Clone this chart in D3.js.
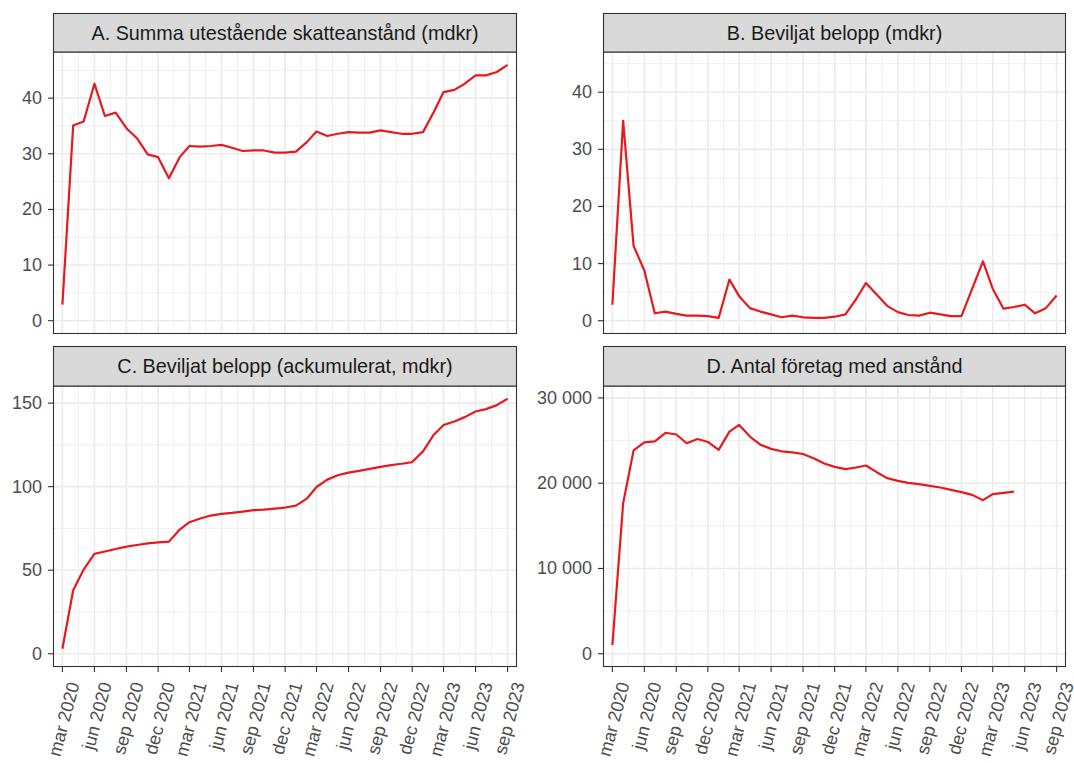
<!DOCTYPE html>
<html>
<head>
<meta charset="utf-8">
<script src="https://cdn.jsdelivr.net/npm/d3@7"></script>
<style>
  body { margin: 0; background: #ffffff; }
  text { font-family: "Liberation Sans", Arial, Helvetica, sans-serif; }
</style>
</head>
<body>
<svg id="chart" width="1074" height="763"></svg>
<script>
// Monthly observations, mar 2020 – sep 2023
const months = [
  "2020-03","2020-04","2020-05","2020-06","2020-07","2020-08","2020-09","2020-10","2020-11","2020-12",
  "2021-01","2021-02","2021-03","2021-04","2021-05","2021-06","2021-07","2021-08","2021-09","2021-10","2021-11","2021-12",
  "2022-01","2022-02","2022-03","2022-04","2022-05","2022-06","2022-07","2022-08","2022-09","2022-10","2022-11","2022-12",
  "2023-01","2023-02","2023-03","2023-04","2023-05","2023-06","2023-07","2023-08","2023-09"
];

// A. Summa utestående skatteanstånd (mdkr)
const utestaende = [
  2.9, 35.1, 35.8, 42.6, 36.8, 37.4, 34.6, 32.8, 29.9, 29.4,
  25.6, 29.4, 31.4, 31.3, 31.4, 31.6, 31.1, 30.5, 30.6, 30.6, 30.2, 30.2,
  30.4, 32.1, 34.0, 33.2, 33.6, 33.9, 33.8, 33.8, 34.2, 33.9, 33.6, 33.6,
  33.9, 37.5, 41.1, 41.5, 42.6, 44.1, 44.1, 44.7, 46.0
];

// B. Beviljat belopp (mdkr)
const beviljat = [
  2.8, 35.0, 13.1, 8.8, 1.3, 1.6, 1.2, 0.9, 0.9, 0.8,
  0.5, 7.2, 4.3, 2.2, 1.6, 1.1, 0.6, 0.9, 0.6, 0.5, 0.5, 0.7,
  1.1, 3.8, 6.6, 4.6, 2.6, 1.5, 1.0, 0.9, 1.4, 1.1, 0.8, 0.8,
  5.6, 10.4, 5.6, 2.1, 2.4, 2.8, 1.3, 2.2, 4.4
];

// C. Beviljat belopp (ackumulerat, mdkr)
const ackumulerat = [
  3.0, 38.0, 50.4, 59.8, 61.2, 62.7, 64.1, 65.1, 66.1, 66.7,
  67.1, 74.3, 78.7, 80.9, 82.7, 83.7, 84.3, 85.1, 85.9, 86.3, 86.9, 87.5,
  88.6, 92.8, 99.8, 104.2, 106.8, 108.4, 109.4, 110.6, 111.8, 112.9, 113.7, 114.7,
  121.1, 131.1, 136.9, 139.0, 141.6, 145.0, 146.4, 148.8, 152.6
];

// D. Antal företag med anstånd (series ends may 2023)
const foretag = [
  1010, 17650, 23850, 24780, 24900, 25910, 25710, 24680, 25180, 24830,
  23900, 26050, 26830, 25460, 24520, 24020, 23740, 23620, 23420, 22930, 22300, 21910,
  21640, 21840, 22070, 21290, 20590, 20270, 20040, 19880, 19690, 19490, 19220, 18950,
  18630, 18010, 18710, 18870, 19020
];

const panelTitles = [
  "A. Summa utestående skatteanstånd (mdkr)",
  "B. Beviljat belopp (mdkr)",
  "C. Beviljat belopp (ackumulerat, mdkr)",
  "D. Antal företag med anstånd"
];

// x-axis breaks (quarterly) and their labels
const tickMonths = [
  "2020-03","2020-06","2020-09","2020-12","2021-03","2021-06","2021-09","2021-12",
  "2022-03","2022-06","2022-09","2022-12","2023-03","2023-06","2023-09"
];
const tickLabels = [
  "mar 2020","jun 2020","sep 2020","dec 2020","mar 2021","jun 2021","sep 2021","dec 2021",
  "mar 2022","jun 2022","sep 2022","dec 2022","mar 2023","jun 2023","sep 2023"
];

// y-axis breaks per panel
const yTicksA = [0, 10, 20, 30, 40];
const yTicksB = [0, 10, 20, 30, 40];
const yTicksC = [0, 50, 100, 150];
const yTicksD = [0, 10000, 20000, 30000];
const yLabelsD = ["0", "10 000", "20 000", "30 000"];

// upper y limits per panel (B and D keep a wider common range)
const yMaxB = 44.8;
const yMaxD = 29900;

// ---------------------------------------------------------------------------
const parseMonth = d3.timeParse("%Y-%m");
const dates = months.map(parseMonth);
const tickDates = tickMonths.map(parseMonth);

const svg = d3.select("#chart");

const cols = [{ x0: 53.5, x1: 516.5 }, { x0: 603.5, x1: 1065.5 }];
const rows = [{ s0: 13.5, p0: 52, p1: 333.5 }, { s0: 346.5, p0: 386, p1: 666.5 }];

const panels = [
  { title: panelTitles[0], values: utestaende, yMax: d3.max(utestaende), ticks: yTicksA, labels: yTicksA.map(String), col: 0, row: 0 },
  { title: panelTitles[1], values: beviljat, yMax: yMaxB, ticks: yTicksB, labels: yTicksB.map(String), col: 1, row: 0 },
  { title: panelTitles[2], values: ackumulerat, yMax: d3.max(ackumulerat), ticks: yTicksC, labels: yTicksC.map(String), col: 0, row: 1 },
  { title: panelTitles[3], values: foretag, yMax: yMaxD, ticks: yTicksD, labels: yLabelsD, col: 1, row: 1 }
];

const gridColor = "#ebebeb";
const borderColor = "#333333";
const lineColor = "#E8191E";
const axisFont = 18;
const stripFont = 19.8;

// shared x domain with 2% padding
const t0 = dates[0].getTime(), t1 = dates[dates.length - 1].getTime();
const tPad = (t1 - t0) * 0.02;
const xDomain = [new Date(t0 - tPad), new Date(t1 + tPad)];

// minor x breaks halfway between quarterly breaks
const xMinor = [];
for (let i = 0; i < tickDates.length - 1; i++) {
  xMinor.push(new Date((tickDates[i].getTime() + tickDates[i + 1].getTime()) / 2));
}

panels.forEach(p => {
  const c = cols[p.col], r = rows[p.row];
  const x = d3.scaleTime().domain(xDomain).range([c.x0, c.x1]);
  const yPad = p.yMax * 0.05;
  const y = d3.scaleLinear().domain([-yPad, p.yMax + yPad]).range([r.p1, r.p0]);

  const g = svg.append("g");

  // panel background
  g.append("rect").attr("x", c.x0).attr("y", r.p0)
    .attr("width", c.x1 - c.x0).attr("height", r.p1 - r.p0).attr("fill", "#ffffff");

  // minor y breaks
  const step = p.ticks[1] - p.ticks[0];
  const yMinor = p.ticks.map(t => t + step / 2).filter(v => v < y.domain()[1]);

  g.selectAll(".xminor").data(xMinor).join("line")
    .attr("x1", d => x(d)).attr("x2", d => x(d)).attr("y1", r.p0).attr("y2", r.p1)
    .attr("stroke", gridColor).attr("stroke-width", 0.8);
  g.selectAll(".yminor").data(yMinor).join("line")
    .attr("x1", c.x0).attr("x2", c.x1).attr("y1", d => y(d)).attr("y2", d => y(d))
    .attr("stroke", gridColor).attr("stroke-width", 0.8);
  g.selectAll(".xmajor").data(tickDates).join("line")
    .attr("x1", d => x(d)).attr("x2", d => x(d)).attr("y1", r.p0).attr("y2", r.p1)
    .attr("stroke", gridColor).attr("stroke-width", 1.6);
  g.selectAll(".ymajor").data(p.ticks).join("line")
    .attr("x1", c.x0).attr("x2", c.x1).attr("y1", d => y(d)).attr("y2", d => y(d))
    .attr("stroke", gridColor).attr("stroke-width", 1.6);

  // series line
  const line = d3.line()
    .x((d, i) => x(dates[i]))
    .y(d => y(d));
  g.append("path").datum(p.values)
    .attr("d", line)
    .attr("fill", "none")
    .attr("stroke", lineColor)
    .attr("stroke-width", 2.2)
    .attr("stroke-linejoin", "round")
    .attr("stroke-linecap", "butt");

  // panel border
  g.append("rect").attr("x", c.x0).attr("y", r.p0)
    .attr("width", c.x1 - c.x0).attr("height", r.p1 - r.p0)
    .attr("fill", "none").attr("stroke", borderColor).attr("stroke-width", 1.1);

  // strip
  g.append("rect").attr("x", c.x0).attr("y", r.s0)
    .attr("width", c.x1 - c.x0).attr("height", r.p0 - r.s0)
    .attr("fill", "#d9d9d9").attr("stroke", borderColor).attr("stroke-width", 1.1);
  g.append("text")
    .attr("x", (c.x0 + c.x1) / 2).attr("y", (r.s0 + r.p0) / 2)
    .attr("text-anchor", "middle").attr("dominant-baseline", "central")
    .attr("font-size", stripFont).attr("fill", "#1a1a1a")
    .text(p.title);

  // y axis
  g.selectAll(".ytick").data(p.ticks).join("line")
    .attr("x1", c.x0 - 5.5).attr("x2", c.x0).attr("y1", d => y(d)).attr("y2", d => y(d))
    .attr("stroke", borderColor).attr("stroke-width", 1.1);
  g.selectAll(".ylab").data(p.ticks).join("text")
    .attr("x", c.x0 - 11.5).attr("y", d => y(d))
    .attr("text-anchor", "end").attr("dominant-baseline", "central")
    .attr("font-size", axisFont).attr("fill", "#4d4d4d")
    .text((d, i) => p.labels[i]);

  // x axis only on the bottom row
  if (p.row === 1) {
    g.selectAll(".xtick").data(tickDates).join("line")
      .attr("x1", d => x(d)).attr("x2", d => x(d)).attr("y1", r.p1).attr("y2", r.p1 + 5.5)
      .attr("stroke", borderColor).attr("stroke-width", 1.1);
    g.selectAll(".xlab").data(tickDates).join("text")
      .attr("transform", d => `translate(${x(d) + 11.5},${r.p1 + 16}) rotate(-75)`)
      .attr("text-anchor", "end").attr("dominant-baseline", "central")
      .attr("font-size", axisFont).attr("fill", "#4d4d4d")
      .text((d, i) => tickLabels[i]);
  }
});
</script>
</body>
</html>
